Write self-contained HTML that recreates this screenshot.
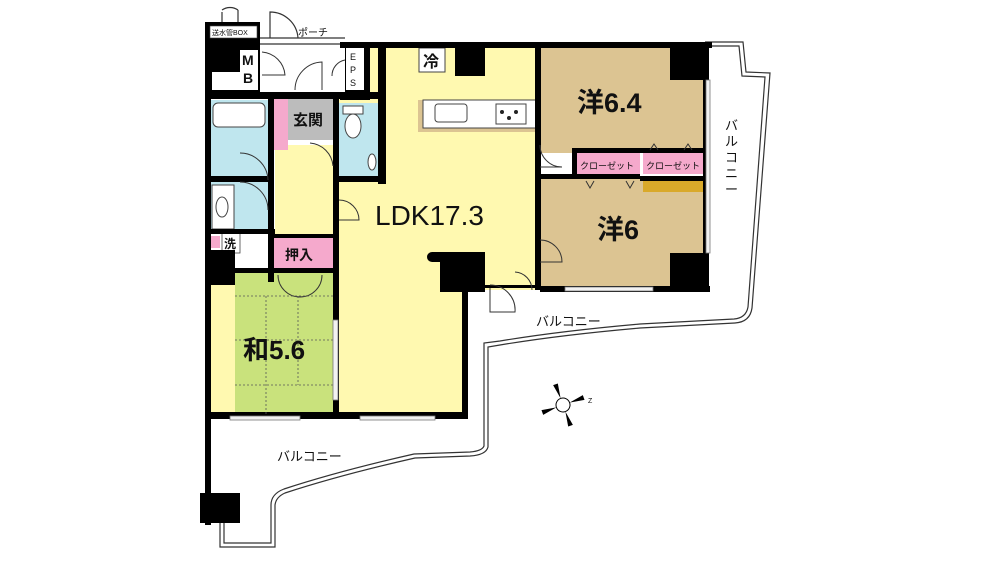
<!DOCTYPE html>
<html><head><meta charset="utf-8"><style>
html,body{margin:0;padding:0;background:#fff;}
svg{display:block}
text{font-family:"Liberation Sans","Noto Sans CJK JP",sans-serif;fill:#111}
</style></head><body>
<svg width="1000" height="562" viewBox="0 0 1000 562" xmlns="http://www.w3.org/2000/svg">
<rect width="1000" height="562" fill="#fff"/>
<g fill="none" stroke="#333" stroke-width="1.2">
<path d="M705 42 L743 42 L746 72 L770 73 L752 308 Q750 322 735 323 L640 328 Q560 335 500 345 L488 347 L488 447 Q486 455 470 456 L415 458 Q340 475 285 493 Q276 497 275 505 L275 547 L220 547 L220 523"/>
<path d="M705 46 L739 46 L742 76 L765 77 L748 307 Q746 318 734 319 L640 324 Q560 331 500 341 L484 343 L484 446 Q482 451 470 452 L414 454 Q339 471 284 489 Q271 494 271 505 L271 543 L224 543 L224 523"/>
</g>
<g fill="none" stroke="#333" stroke-width="1.2">
<path d="M260 44 L345 44 M260 38 L345 38"/>
<path d="M270 38 L270 12 A28 28 0 0 1 298 38"/>
<path d="M222 22 L222 12 M238 22 L238 10"/>
<path d="M222 10 A14 14 0 0 1 238 10"/>
</g>
<text x="298" y="36" font-size="10">ポーチ</text>
<rect x="338" y="48" width="200" height="232" fill="#fff9b0"/>
<rect x="338" y="270" width="125" height="148" fill="#fff9b0"/>
<rect x="462" y="270" width="78" height="20" fill="#fff9b0"/>
<rect x="275" y="145" width="60" height="95" fill="#fff9b0"/>
<rect x="210" y="285" width="25" height="133" fill="#fff9b0"/>
<rect x="235" y="272" width="98" height="146" fill="#c9e27c"/>
<rect x="540" y="48" width="165" height="105" fill="#dcc492"/>
<rect x="540" y="178" width="165" height="110" fill="#dcc492"/>
<rect x="643" y="180" width="60" height="12" fill="#d9a92a"/>
<rect x="575" y="152" width="65" height="24" fill="#f5a9cc"/>
<rect x="643" y="152" width="60" height="22" fill="#f5a9cc"/>
<rect x="210" y="100" width="58" height="78" fill="#bfe6ee"/>
<rect x="213" y="103" width="52" height="24" rx="5" fill="#fff" stroke="#444" stroke-width="1"/>
<rect x="210" y="182" width="58" height="48" fill="#bfe6ee"/>
<rect x="212" y="185" width="22" height="44" fill="#fff" stroke="#444"/>
<ellipse cx="222" cy="207" rx="6" ry="10" fill="#fff" stroke="#444"/>
<rect x="338" y="103" width="42" height="75" fill="#bfe6ee"/>
<rect x="343" y="106" width="20" height="8" fill="#fff" stroke="#444"/>
<ellipse cx="353" cy="126" rx="8" ry="12" fill="#fff" stroke="#444"/>
<ellipse cx="372" cy="162" rx="4" ry="8" fill="#fff" stroke="#444"/>
<rect x="288" y="98" width="45" height="42" fill="#bcbcbc"/>
<rect x="274" y="98" width="14" height="52" fill="#f5a9cc"/>
<rect x="272" y="237" width="61" height="33" fill="#f5a9cc"/>
<rect x="208" y="236" width="12" height="12" fill="#f5a9cc"/>
<rect x="222" y="233" width="18" height="20" fill="#fff" stroke="#444" stroke-width="0.8"/>
<rect x="418" y="100" width="119" height="32" fill="#dcc492"/>
<rect x="423" y="100" width="114" height="28" fill="#fff" stroke="#444"/>
<rect x="435" y="104" width="32" height="18" rx="3" fill="#fff" stroke="#444"/>
<rect x="496" y="104" width="30" height="20" fill="#fff" stroke="#444"/>
<g fill="#222"><circle cx="502" cy="112" r="2"/><circle cx="516" cy="112" r="2"/><circle cx="509" cy="118" r="2"/></g>
<rect x="419" y="48" width="26" height="24" fill="#fff" stroke="#444"/>
<text x="423" y="67" font-size="16" font-weight="bold">冷</text>
<g fill="#000">
<rect x="205" y="22" width="55" height="70"/>
<rect x="205" y="40" width="6" height="485"/>
<rect x="200" y="493" width="40" height="30"/>
<rect x="205" y="250" width="30" height="35"/>
<rect x="205" y="412" width="260" height="7"/>
<rect x="333" y="95" width="6" height="323"/>
<rect x="268" y="92" width="6" height="190"/>
<rect x="205" y="92" width="175" height="7"/>
<rect x="205" y="176" width="66" height="6"/>
<rect x="205" y="229" width="70" height="5"/>
<rect x="268" y="234" width="70" height="4"/>
<rect x="232" y="268" width="106" height="5"/>
<rect x="378" y="44" width="8" height="140"/>
<rect x="335" y="176" width="50" height="6"/>
<rect x="342" y="42" width="370" height="6"/>
<rect x="340" y="42" width="30" height="58"/>
<rect x="455" y="48" width="30" height="28"/>
<rect x="535" y="44" width="6" height="246"/>
<rect x="670" y="48" width="36" height="32"/>
<rect x="670" y="253" width="36" height="37"/>
<rect x="703" y="42" width="6" height="248"/>
<rect x="540" y="286" width="170" height="6"/>
<rect x="572" y="148" width="135" height="5"/>
<rect x="572" y="148" width="5" height="30"/>
<rect x="640" y="176" width="66" height="5"/>
<rect x="540" y="174" width="100" height="5"/>
<rect x="440" y="252" width="45" height="40"/>
<circle cx="432" cy="257" r="5"/><rect x="432" y="252" width="10" height="10"/>
<rect x="462" y="285" width="6" height="134"/>
<rect x="485" y="285" width="55" height="3"/>
</g>
<rect x="210" y="26" width="47" height="12" fill="#fff" stroke="#444" stroke-width="0.6"/>
<text x="212" y="35" font-size="7">送水管BOX</text>
<rect x="240" y="50" width="18" height="40" fill="#fff"/>
<rect x="212" y="72" width="28" height="18" fill="#fff"/>
<text x="242" y="65" font-size="14" font-weight="bold">M</text><text x="243" y="83" font-size="14" font-weight="bold">B</text>
<rect x="260" y="48" width="85" height="44" fill="#fff"/>
<rect x="346" y="48" width="18" height="42" fill="#fff"/>
<text x="350" y="60" font-size="9">E</text><text x="350" y="73" font-size="9">P</text><text x="350" y="86" font-size="9">S</text>
<g fill="none" stroke="#333" stroke-width="1">
<path d="M262 52 A25 25 0 0 1 285 75 L262 75"/>
<path d="M295 90 A28 28 0 0 1 322 62 L322 90"/>
<path d="M332 76 A16 16 0 0 1 345 60"/>
<path d="M310 143 A25 25 0 0 1 333 166"/>
<path d="M240 153 A28 28 0 0 1 268 180"/>
<path d="M240 182 A28 28 0 0 1 268 210"/>
<path d="M339 200 A20 20 0 0 1 359 220 L339 220"/>
<path d="M540 145 A22 22 0 0 0 562 167 L540 167"/>
<path d="M540 240 A22 22 0 0 1 562 262 L540 262"/>
<path d="M490 285 A25 25 0 0 1 515 312 L490 312 L490 288"/>
<path d="M515 272 A18 18 0 0 1 532 290"/>
<path d="M278 275 A22 22 0 0 0 300 297 M322 275 A22 22 0 0 1 300 297"/>
<path d="M586 181 l4 7 l4 -7 M626 181 l4 7 l4 -7 M650 150 l4 -6 l4 6 M684 150 l4 -6 l4 6"/>
</g>
<g stroke="#555" stroke-width="0.8" stroke-dasharray="2,2" fill="none">
<path d="M235 296 L333 296 M235 340 L333 340 M235 385 L333 385 M266 296 L266 418 M298 296 L298 385"/>
</g>
<g fill="#f2f2f2" stroke="#777" stroke-width="0.8">
<rect x="706" y="80" width="4" height="173"/>
<rect x="565" y="287" width="88" height="4"/>
<rect x="333" y="320" width="5" height="80"/>
<rect x="230" y="416" width="70" height="4"/>
<rect x="360" y="416" width="75" height="4"/>
</g>
<text x="375" y="225" font-size="28">LDK17.3</text>
<text x="577" y="112" font-size="27" font-weight="bold">洋6.4</text>
<text x="597" y="239" font-size="27" font-weight="bold">洋6</text>
<text x="243" y="359" font-size="26" font-weight="bold">和5.6</text>
<text x="293" y="125" font-size="15" font-weight="bold">玄関</text>
<text x="285" y="260" font-size="14" font-weight="bold">押入</text>
<text x="224" y="248" font-size="12" font-weight="bold">洗</text>
<text x="580" y="169" font-size="9">クローゼット</text>
<text x="646" y="169" font-size="9">クローゼット</text>
<text x="536" y="326" font-size="13">バルコニー</text>
<text x="277" y="461" font-size="13">バルコニー</text>
<g font-size="13"><text x="725" y="130">バ</text><text x="725" y="146">ル</text><text x="725" y="162">コ</text><text x="725" y="178">ニ</text><text x="725" y="194">ー</text></g>
<g transform="translate(563,405) rotate(-20)">
<circle r="7" fill="#fff" stroke="#000"/>
<path d="M0 -7 L-2.5 -22 L2.5 -22 Z M0 7 L-2.5 22 L2.5 22Z M-7 0 L-22 -2.5 L-22 2.5Z M7 0 L22 -2.5 L22 2.5Z" fill="#000"/>
</g>
<text x="588" y="403" font-size="7">Z</text>
</svg>
</body></html>
